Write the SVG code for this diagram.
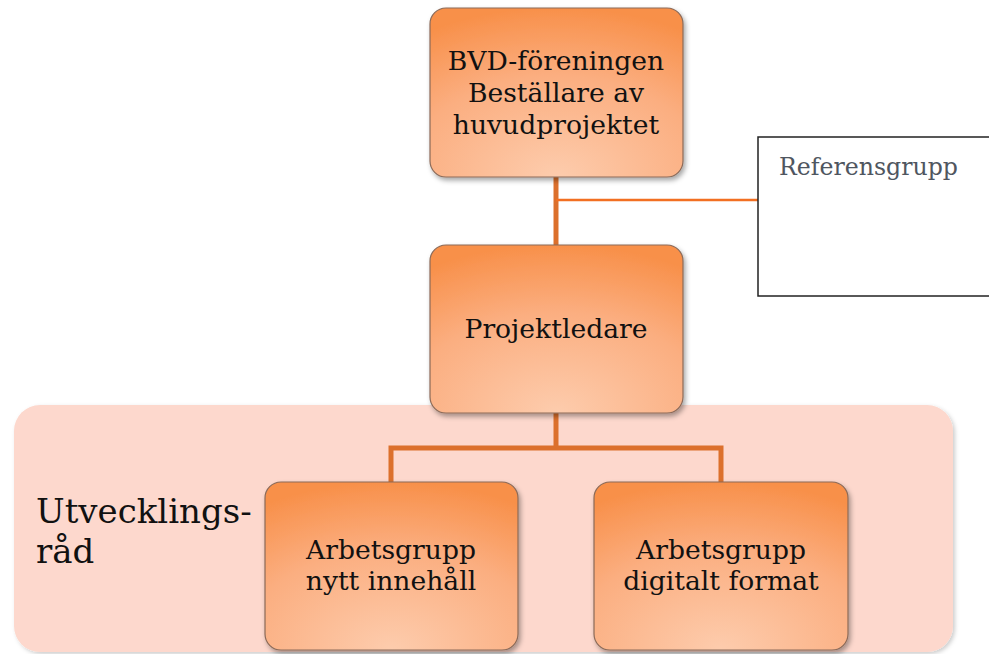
<svg xmlns="http://www.w3.org/2000/svg" width="989" height="654" viewBox="0 0 989 654">
<defs>
<radialGradient id="boxg" cx="50%" cy="100%" r="100%" fx="50%" fy="100%">
<stop offset="0" stop-color="#FDCCAD"/>
<stop offset="0.6" stop-color="#FBAE80"/>
<stop offset="1" stop-color="#F8904A"/>
</radialGradient>
<filter id="sh" x="-10%" y="-10%" width="125%" height="125%">
<feDropShadow dx="2" dy="3" stdDeviation="2.5" flood-color="#000" flood-opacity="0.35"/>
</filter>
<filter id="shbg" x="-5%" y="-5%" width="110%" height="115%">
<feDropShadow dx="2" dy="2" stdDeviation="2" flood-color="#000" flood-opacity="0.2"/>
</filter>
</defs>
<style>
.box{fill:url(#boxg);stroke:#8B6A58;stroke-width:1.2;filter:url(#sh)}
.t{font-family:"DejaVu Serif","Liberation Serif",serif;font-size:26.6px;fill:#111;text-anchor:middle}
.conn{stroke:#DC702C;stroke-width:5;fill:none}
.thin{stroke:#F26F22;stroke-width:2.5;fill:none}
</style>
<rect width="989" height="654" fill="#fff"/>
<g id="utvecklingsrad">
<rect x="14" y="405" width="939" height="247" rx="26" fill="#FDD8CD" filter="url(#shbg)"/>
<text x="36" y="523" font-family="DejaVu Serif,Liberation Serif,serif" font-size="34" fill="#111">Utvecklings-</text>
<text x="36" y="563" font-family="DejaVu Serif,Liberation Serif,serif" font-size="34" fill="#111">råd</text>
</g>
<g id="connectors">
<line class="conn" x1="556" y1="177" x2="556" y2="245"/>
<line class="thin" x1="556" y1="200" x2="758" y2="200"/>
<polyline class="conn" points="556,413 556,448"/>
<polyline class="conn" points="391,482 391,448 721,448 721,482"/>
</g>
<g id="referensgrupp">
<rect x="758" y="137" width="240" height="159" fill="#fff" stroke="#222" stroke-width="1.5"/>
<text x="779" y="175" font-family="DejaVu Serif,Liberation Serif,serif" font-size="23.8" fill="#4F5660" textLength="179" lengthAdjust="spacingAndGlyphs">Referensgrupp</text>
</g>
<g id="bvd">
<rect class="box" x="430" y="8" width="253" height="169" rx="16"/>
<text class="t" x="556" y="70">BVD-föreningen</text>
<text class="t" x="556" y="102">Beställare av</text>
<text class="t" x="556" y="134">huvudprojektet</text>
</g>
<g id="projektledare">
<rect class="box" x="430" y="245" width="253" height="168" rx="16"/>
<text class="t" x="556" y="338">Projektledare</text>
</g>
<g id="nytt">
<rect class="box" x="265" y="482" width="253" height="168" rx="16"/>
<text class="t" x="391" y="559">Arbetsgrupp</text>
<text class="t" x="391" y="590">nytt innehåll</text>
</g>
<g id="digitalt">
<rect class="box" x="594" y="482" width="254" height="168" rx="16"/>
<text class="t" x="721" y="559">Arbetsgrupp</text>
<text class="t" x="721" y="590">digitalt format</text>
</g>
</svg>
